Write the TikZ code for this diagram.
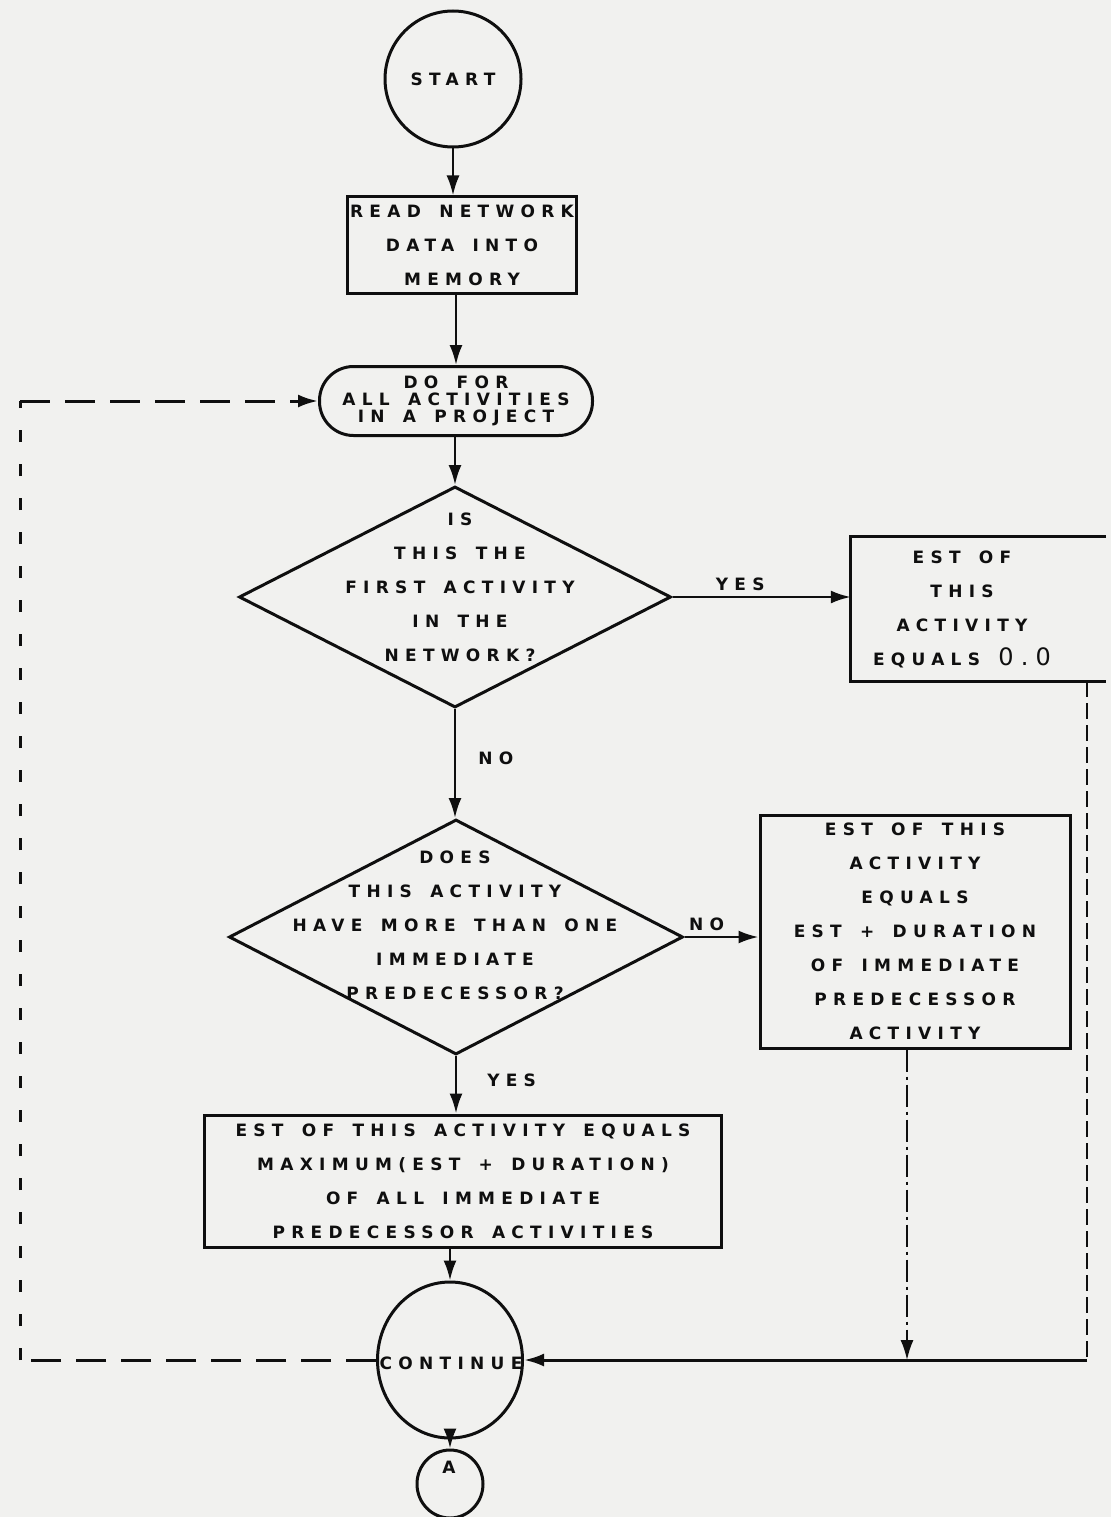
\documentclass[tikz,border=0pt]{standalone}
\usepackage{fontspec}
\usetikzlibrary{shapes.geometric,arrows.meta}
\newfontfamily\lrfam[LetterSpace=37,WordSpace=1.5]{DejaVu Sans}
\newfontfamily\numfam[LetterSpace=30]{DejaVu Sans}
\newcommand\lrfont{\lrfam\bfseries\fontsize{17}{34}\selectfont}
\newcommand\lrtight{\lrfam\bfseries\fontsize{17}{17}\selectfont}
\definecolor{paper}{RGB}{241,241,239}
\definecolor{ink}{RGB}{15,15,15}
\tikzset{
  tip/.style={-{Latex[length=20pt,width=13pt]}},
  ln/.style={line width=3pt, draw=ink},
  arr/.style={line width=2.5pt, draw=ink, tip},
  box/.style={draw=ink, line width=3pt, inner sep=0pt},
  txt/.style={font=\lrfont, align=center, inner sep=0pt, text=ink},
  lbl/.style={font=\lrfont, inner sep=0pt, text=ink},
  hdash/.style={line width=3pt, draw=ink, dash pattern=on 30pt off 15pt},
  vdash/.style={line width=3pt, draw=ink, dash pattern=on 12pt off 22pt},
  rdash/.style={line width=1.8pt, draw=ink, dash pattern=on 16pt off 6pt},
  ddot/.style={line width=1.8pt, draw=ink, dash pattern=on 22pt off 5pt on 3pt off 5pt}
}
\begin{document}
\begin{tikzpicture}[x=1pt,y=-1pt]
\useasboundingbox (0,0) rectangle (1111,1517);
\fill[paper] (0,0) rectangle (1111,1517);

% nodes
\node[circle, ln, draw, minimum size=136pt, inner sep=0pt, font=\lrfont, text=ink] (start) at (453,79) {START};
\node[box, txt, minimum width=229pt, minimum height=96pt] (read) at (462,245) {READ NETWORK\\DATA INTO\\MEMORY};
\node[box, txt, font=\lrtight, rounded corners=34pt, minimum width=273pt, minimum height=69pt] (dofor) at (456,401) {DO FOR\\ALL ACTIVITIES\\IN A PROJECT};

\node[diamond, ln, draw, minimum width=432pt, minimum height=221pt, inner sep=0pt] (d1) at (455,597) {};
\node[txt] (d1t) at (460,587) {IS\\THIS THE\\FIRST ACTIVITY\\IN THE\\NETWORK?};

\node[minimum width=255pt, minimum height=144pt, inner sep=0pt] (est1) at (978.5,609) {};
\draw[ln] (est1.north east) -- (est1.north west) -- (est1.south west) -- (est1.south east);
\node[txt] (est1t) at (962,609) {EST OF\\THIS\\ACTIVITY\\EQUALS {\numfam\mdseries\fontsize{24}{34}\selectfont 0.0}};

\node[diamond, ln, draw, minimum width=454pt, minimum height=235pt, inner sep=0pt] (d2) at (456,937) {};
\node[txt] (d2t) at (455,925) {DOES\\THIS ACTIVITY\\HAVE MORE THAN ONE\\IMMEDIATE\\PREDECESSOR?};

\node[box, txt, minimum width=310pt, minimum height=233pt] (est2) at (915,931.5) {EST OF THIS\\ACTIVITY\\EQUALS\\EST + DURATION\\OF IMMEDIATE\\PREDECESSOR\\ACTIVITY};

\node[box, txt, minimum width=517pt, minimum height=132pt] (est3) at (463,1181) {EST OF THIS ACTIVITY EQUALS\\MAXIMUM(EST + DURATION)\\OF ALL IMMEDIATE\\PREDECESSOR ACTIVITIES};

\node[ellipse, ln, draw, minimum width=145pt, minimum height=156pt, inner sep=0pt] (cont) at (450,1360) {};
\node[lbl] (contt) at (451,1363) {CONTINUE};

\node[ellipse, ln, draw, minimum width=66pt, minimum height=68pt, inner sep=0pt] (a) at (450,1484) {};
\node[lbl] (at) at (449,1467) {A};

% helper coordinates
\coordinate (lb) at (20,1360);
\coordinate (lt) at (20,401);
\coordinate (rc) at (1087,1360);
\coordinate (j) at (907,1360);

% main column
\draw[arr] (start.south) -- (start.south |- read.north);
\draw[arr] (dofor.north |- read.south) -- (dofor.north);
\draw[arr] (d1.north |- dofor.south) -- (d1.north);
\draw[arr] (d1.south) -- (d1.south |- d2.north) node[lbl, pos=0.45, right=22pt] {NO};
\draw[arr] (d2.south) -- (d2.south |- est3.north) node[lbl, pos=0.42, right=30pt] {YES};
\draw[arr] (cont.north |- est3.south) -- (cont.north);
\draw[arr] (cont.south) -- (a.north);

% side branches
\draw[arr] (d1.east) -- (d1.east -| est1.west) node[lbl, pos=0.38, above=5pt] {YES};
\draw[arr] (d2.east) -- (d2.east -| est2.west) node[lbl, pos=0.3, above=5pt] {NO};

% return paths
\draw[rdash] (est1.south -| rc) -- (rc);
\draw[ln, tip] (rc) -- (cont.east);
\draw[ddot, tip] (est2.south -| j) -- (j);

% loop back
\draw[hdash] (cont.west) -- (lb);
\draw[vdash] (lb) -- (lt);
\draw[hdash, tip] (lt) -- (dofor.west);
\end{tikzpicture}
\end{document}
